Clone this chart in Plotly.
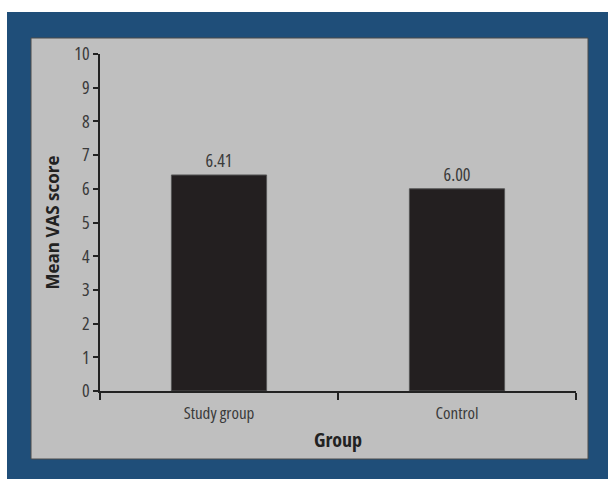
import plotly.graph_objects as go

categories = ["Study group", "Control"]
values = [6.41, 6.00]
value_labels = ["6.41", "6.00"]
y_ticks = list(range(0, 11))

FONT = "Open Sans, DejaVu Sans, sans-serif"

# plot area in pixels
W, H = 608, 479
L, R, T, B = 100, 32, 54, 88
pw, ph = W - L - R, H - T - B

def px(x):
    return (x - L) / pw

def py(y):
    return (H - B - y) / ph

fig = go.Figure()
fig.add_trace(go.Bar(
    x=categories, y=values, text=value_labels, textposition="outside",
    textfont=dict(family=FONT, size=18, color="#3a3a3a"),
    marker=dict(color="#231f20", line=dict(color="#555555", width=1)),
    width=0.4, cliponaxis=False,
))

fig.add_shape(type="rect", xref="paper", yref="paper",
              x0=px(7), x1=px(610), y0=py(12), y1=py(481),
              fillcolor="#1f4e79", line=dict(width=0), layer="below")
fig.add_shape(type="rect", xref="paper", yref="paper",
              x0=px(31), x1=px(588), y0=py(38), y1=py(459),
              fillcolor="#bfbfbf", line=dict(color="#4a4a4a", width=1), layer="below")

fig.update_layout(
    width=W, height=H,
    margin=dict(l=L, r=R, t=T, b=B, pad=0),
    paper_bgcolor="white", plot_bgcolor="rgba(0,0,0,0)",
    showlegend=False,
    font=dict(family=FONT, size=17, color="#3a3a3a"),
)
fig.update_xaxes(
    showline=True, linecolor="#222222", linewidth=1.5,
    ticks="outside", tickson="boundaries", ticklen=7, tickcolor="#222222", tickwidth=1.5,
    ticklabelstandoff=6,
    showgrid=False, zeroline=False,
    tickfont=dict(family=FONT, size=17, color="#3a3a3a"),
    title=dict(text="<b>Group</b>", font=dict(family=FONT, size=20, color="#222222"), standoff=10),
)
fig.update_yaxes(
    range=[0, 10], tickvals=y_ticks, ticktext=[str(v) for v in y_ticks],
    showline=True, linecolor="#222222", linewidth=1.5,
    ticks="outside", ticklen=5, tickcolor="#222222", tickwidth=1.5,
    showgrid=False, zeroline=False,
    tickfont=dict(family=FONT, size=18, color="#3a3a3a"),
    title=dict(text="<b>Mean VAS score</b>", font=dict(family=FONT, size=17, color="#222222"), standoff=5),
)

post = """
document.body.style.margin='0';
var s=document.createElement('style');
s.textContent='.main-svg text{font-stretch:75% !important;} .main-svg text.ytitle{font-stretch:100% !important;}';
document.head.appendChild(s);
var gd=document.getElementById('{plot_id}');
Plotly.relayout(gd,{});
"""

fig.write_html("out.html", config={"displayModeBar": False}, post_script=post)
